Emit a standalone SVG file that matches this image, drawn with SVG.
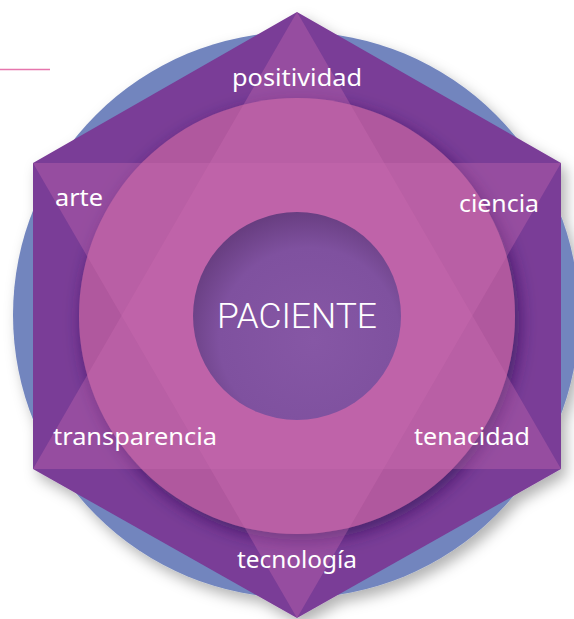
<svg xmlns="http://www.w3.org/2000/svg" width="574" height="619" viewBox="0 0 574 619">
<style>
.lbl{fill:#ffffff;font-family:"Noto Sans","Open Sans",sans-serif;font-size:23px;}
.ctr{fill:#ffffff;font-family:Roboto,"Liberation Sans",sans-serif;font-weight:300;font-size:35px;}
.tri{fill:#cc6cb2;fill-opacity:0.35;}
</style>
<defs>
<filter id="outerShadow" x="-10%" y="-10%" width="125%" height="125%">
<feDropShadow dx="5" dy="7" stdDeviation="7" flood-color="#000000" flood-opacity="0.3"/>
</filter>
<filter id="pinkShadow" x="-20%" y="-20%" width="140%" height="140%">
<feDropShadow dx="4" dy="6" stdDeviation="9" flood-color="#2e1656" flood-opacity="0.7"/>
</filter>
<radialGradient id="innerGrad" cx="0.55" cy="0.6" r="0.62" fx="0.58" fy="0.62">
<stop offset="0" stop-color="#8657a5"/>
<stop offset="0.7" stop-color="#7f519f"/>
<stop offset="1" stop-color="#663c7e"/>
</radialGradient>
</defs>
<line x1="0" y1="69.5" x2="50" y2="69.5" stroke="#e676ad" stroke-width="1.5"/>
<g id="background" filter="url(#outerShadow)">
<circle cx="296" cy="315" r="283" fill="#7285be"/>
<polygon points="297,12 561,163 561,469 297,618 33,469 33,163" fill="#7a3c97"/>
</g>
<g id="ring">
<circle cx="297" cy="316" r="218" fill="#b0599e" filter="url(#pinkShadow)"/>
</g>
<g id="star">
<polygon class="tri" points="297,12 561,469 33,469"/>
<polygon class="tri" points="33,163 561,163 297,618"/>
</g>
<g id="paciente">
<circle cx="297" cy="316" r="104" fill="url(#innerGrad)"/>
<text class="ctr" x="297" y="328" text-anchor="middle" textLength="160" lengthAdjust="spacingAndGlyphs">PACIENTE</text>
</g>
<g id="positividad"><text class="lbl" x="232" y="86" textLength="130" lengthAdjust="spacingAndGlyphs">positividad</text></g>
<g id="arte"><text class="lbl" x="55" y="206" textLength="48" lengthAdjust="spacingAndGlyphs">arte</text></g>
<g id="ciencia"><text class="lbl" x="459" y="212" textLength="80" lengthAdjust="spacingAndGlyphs">ciencia</text></g>
<g id="transparencia"><text class="lbl" x="53" y="445" textLength="164" lengthAdjust="spacingAndGlyphs">transparencia</text></g>
<g id="tenacidad"><text class="lbl" x="414" y="445" textLength="116" lengthAdjust="spacingAndGlyphs">tenacidad</text></g>
<g id="tecnologia"><text class="lbl" x="237" y="568" textLength="120" lengthAdjust="spacingAndGlyphs">tecnología</text></g>
<g id="connectors"></g>
</svg>
